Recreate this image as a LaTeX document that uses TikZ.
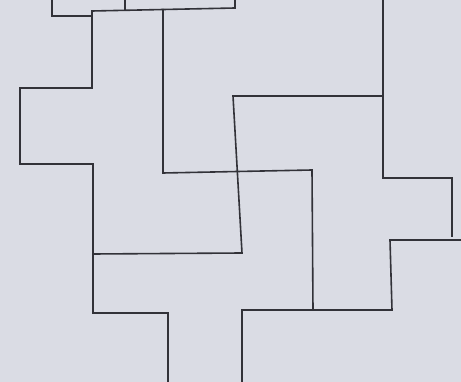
\documentclass[tikz,border=0pt]{standalone}
\usepackage{tikz}
\definecolor{paper}{RGB}{218,220,228}
\definecolor{ink}{RGB}{50,50,56}
\tikzset{pen/.style={draw=ink,line width=1.6pt,line join=miter}}
\begin{document}
\begin{tikzpicture}[x=1pt,y=-1pt]
    % paper
    \fill[paper] (0,0) rectangle (461,382);
    \useasboundingbox (0,0) rectangle (461,382);
    % top strip
    \begin{scope}
      \draw[pen] (52,0) -- (52,16) -- (92,16);
      \draw[pen] (125,0) -- (125,10);
    \end{scope}
    % left outline
    \draw[pen] (235,0) -- (235,8) -- (92,11) -- (92,88) -- (20,88) -- (20,164)
      -- (93,164) -- (93,313) -- (168,313) -- (168,382);
    % central pieces
    \draw[pen] (163,9) -- (163,173) -- (312,170) -- (313,310);
    \draw[pen] (93,254) -- (242,253) -- (233,96) -- (383,96);
    % right pieces
    \draw[pen] (383,0) -- (383,178) -- (452,178) -- (452,237);
    \draw[pen] (242,382) -- (242,310) -- (392,310) -- (390,240) -- (461,240);
\end{tikzpicture}
\end{document}
